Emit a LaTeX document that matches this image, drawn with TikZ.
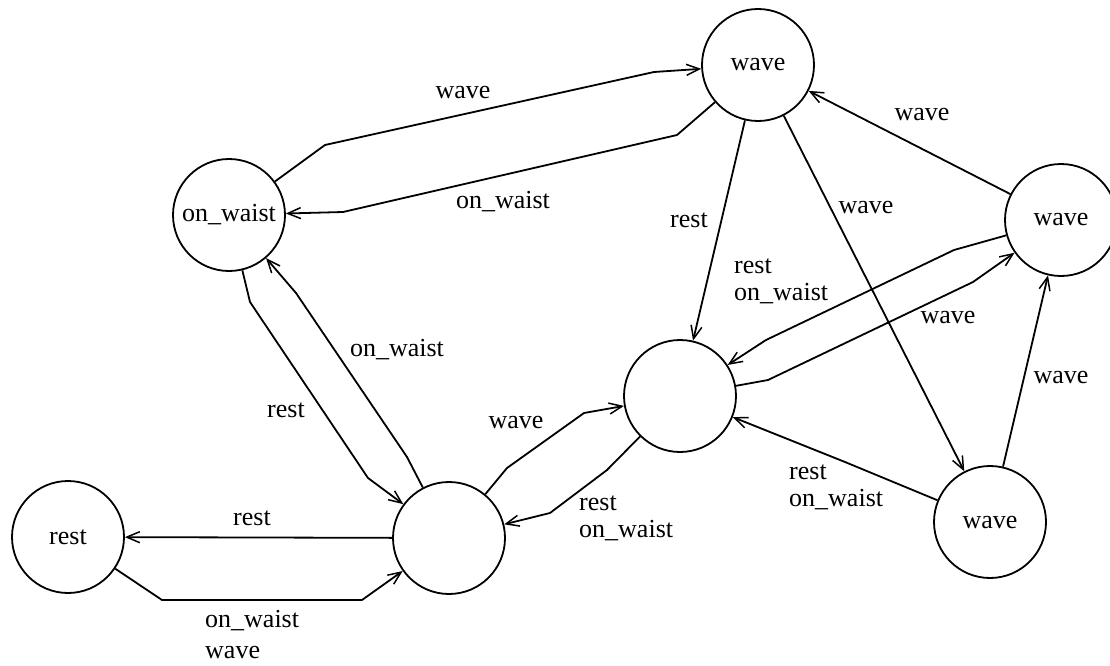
\documentclass[tikz,border=0pt]{standalone}
\usepackage{fontspec}
\setmainfont{Liberation Serif}
\usetikzlibrary{arrows.meta}
\begin{document}
\begin{tikzpicture}[x=1pt,y=-1pt,
  labelfont/.style={font=\fontsize{26}{27}\selectfont},
  state/.style={circle,draw,line width=1.8pt,minimum size=112pt,inner sep=0pt,labelfont},
  trans/.style={line width=1.8pt,line join=round,-{Straight Barb[length=13pt,width=11pt,line width=1.5pt]}},
  lbl/.style={labelfont,inner sep=0pt}]
\useasboundingbox (0,0) rectangle (1110,666);
\begin{scope}
\clip (0,0) rectangle (1110,666);
% states
\node[state] (tw)  at (758,65)   {wave};
\node[state] (ow)  at (229,215)  {on\_waist};
\node[state] (rw)  at (1061,220) {wave};
\node[state] (hub) at (680,396)  {};
\node[state] (bw)  at (990,522)  {wave};
\node[state] (rs)  at (68,537)   {rest};
\node[state] (lo)  at (449,538)  {};
\end{scope}

% transitions
\draw[trans] (ow) -- (325,145) -- (654,72) -- (tw);
\draw[trans] (tw) -- (677,135) -- (343,212) -- (ow);
\draw[trans] (tw) -- (hub);
\draw[trans] (tw) -- (bw);
\draw[trans] (rw) -- (tw);
\draw[trans] (rw) -- (954,250) -- (766,340) -- (hub);
\draw[trans] (hub) -- (768,380) -- (973,282) -- (rw);
\draw[trans] (bw) -- (rw);
\draw[trans] (bw) -- (845,462) -- (hub);
\draw[trans] (lo) -- (507,468) -- (584,413) -- (hub);
\draw[trans] (hub) -- (607,470) -- (550,513) -- (lo);
\draw[trans] (ow) -- (250,302) -- (368,478) -- (lo);
\draw[trans] (lo) -- (407,457) -- (296,293) -- (ow);
\draw[trans] (lo) -- (rs);
\draw[trans] (rs) -- (162,600) -- (362,600) -- (lo);

% transition labels
\node[lbl] (l1)  at (463,93)   {wave};
\node[lbl] (l2)  at (503,202)  {on\_waist};
\node[lbl] (l3)  at (689,220)  {rest};
\node[lbl] (l4)  at (866,207)  {wave};
\node[lbl] (l5)  at (922,115)  {wave};
\node[lbl,anchor=west,align=left] (l6) at (734,281.5) {rest\\on\_waist};
\node[lbl] (l7)  at (948,317)  {wave};
\node[lbl] (l8)  at (1061,377) {wave};
\node[lbl,anchor=west,align=left] (l9) at (789,487.5) {rest\\on\_waist};
\node[lbl] (l10) at (516,422)  {wave};
\node[lbl,anchor=west,align=left] (l11) at (579,518.5) {rest\\on\_waist};
\node[lbl] (l12) at (286,410)  {rest};
\node[lbl] (l13) at (397,350)  {on\_waist};
\node[lbl] (l14) at (252,518)  {rest};
\node[lbl,anchor=west,align=left] (l15) at (205,635) {on\_waist\\[4pt]wave};
\end{tikzpicture}
\end{document}
